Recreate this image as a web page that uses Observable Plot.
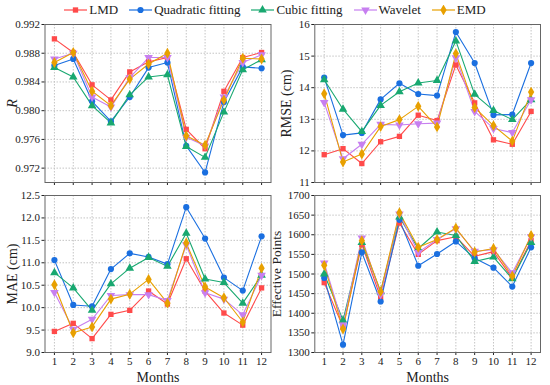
<!DOCTYPE html>
<html><head><meta charset="utf-8">
<script src="https://cdn.jsdelivr.net/npm/d3@7"></script>
<script src="https://cdn.jsdelivr.net/npm/@observablehq/plot@0.6"></script>
<style>
body{margin:0;background:#fff;}
#c{position:relative;width:550px;height:385px;font-family:"Liberation Serif","Times New Roman",serif;overflow:hidden;}
.p{position:absolute;}
#legend{position:absolute;top:1px;left:0;width:550px;display:flex;justify-content:center;gap:11px;font-size:13px;line-height:18px;color:#222;}
#legend span.item{display:flex;align-items:center;gap:2px;}
</style></head><body><div id="c"><div id="legend"></div></div>
<script>
const months = [1,2,3,4,5,6,7,8,9,10,11,12];
const seriesNames = ["LMD","Quadratic fitting","Cubic fitting","Wavelet","EMD"];
const colors = ["#ff4a4a","#1a6fe0","#18a870","#c77ff0","#e8a000"];

// R
const R_LMD   = [0.9900,0.9881,0.9836,0.9815,0.9854,0.9868,0.9874,0.9774,0.9747,0.9827,0.9874,0.9881];
const R_Quad  = [0.9863,0.9872,0.9813,0.9785,0.9819,0.9860,0.9867,0.9751,0.9714,0.9812,0.9861,0.9859];
const R_Cubic = [0.9860,0.9847,0.9807,0.9783,0.9822,0.9847,0.9850,0.9750,0.9735,0.9798,0.9857,0.9871];
const R_Wav   = [0.9872,0.9880,0.9819,0.9805,0.9846,0.9874,0.9874,0.9763,0.9751,0.9819,0.9867,0.9878];
const R_EMD   = [0.9867,0.9881,0.9827,0.9807,0.9844,0.9865,0.9880,0.9765,0.9752,0.9815,0.9873,0.9872];
// RMSE (cm)
const RMSE_LMD   = [11.88,12.07,11.60,12.29,12.46,13.13,12.96,14.72,13.52,12.35,12.21,13.25];
const RMSE_Quad  = [14.32,12.50,12.57,13.63,14.14,13.80,13.75,15.76,14.78,13.14,13.15,14.78];
const RMSE_Cubic = [14.25,13.32,12.61,13.44,13.87,14.15,14.23,15.48,13.79,13.28,12.99,13.62];
const RMSE_Wav   = [13.53,11.75,12.21,12.84,12.82,12.86,12.88,14.95,13.25,12.71,12.58,13.62];
const RMSE_EMD   = [13.81,11.65,11.90,12.77,12.99,13.41,12.76,15.08,13.37,12.80,12.31,13.86];
// MAE (cm)
const MAE_LMD   = [9.47,9.65,9.31,9.85,9.94,10.37,10.08,11.09,10.37,9.88,9.61,10.44];
const MAE_Quad  = [11.06,10.06,10.03,10.86,11.21,11.13,10.97,12.24,11.54,10.67,10.38,11.59];
const MAE_Cubic = [10.78,10.44,9.94,10.53,10.88,11.12,10.92,11.66,10.64,10.56,10.10,10.72];
const MAE_Wav   = [10.34,9.52,9.74,10.27,10.29,10.29,10.16,11.40,10.33,10.19,9.84,10.72];
const MAE_EMD   = [10.51,9.44,9.57,10.19,10.30,10.63,10.10,11.44,10.46,10.22,9.68,10.88];
// Effective Points
const EP_LMD   = [1478,1365,1575,1440,1630,1550,1585,1595,1545,1557,1490,1585];
const EP_Quad  = [1490,1320,1555,1430,1638,1521,1551,1583,1540,1516,1468,1568];
const EP_Cubic = [1500,1382,1580,1455,1645,1565,1607,1598,1532,1543,1488,1580];
const EP_Wav   = [1528,1370,1592,1448,1653,1555,1588,1615,1558,1562,1503,1595];
const EP_EMD   = [1522,1360,1585,1455,1656,1568,1588,1617,1556,1565,1495,1598];

const sqrt3 = Math.sqrt(3);
const triangleDown = {draw(ctx, size){const y=-Math.sqrt(size/(sqrt3*3));ctx.moveTo(0,-y*2);ctx.lineTo(-sqrt3*y,y);ctx.lineTo(sqrt3*y,y);ctx.closePath();}};
const symbols = ["square","circle","triangle",triangleDown,"diamond"];
const radii = [3.0,3.1,3.2,3.2,3.3];

function rows(arrs){
  return arrs.map((vals,i)=>months.map((m,j)=>({month:m,value:vals[j],series:seriesNames[i]})));
}

function panel(o){
  const series = rows(o.arrays);
  const marks = [
    Plot.gridX(months,{stroke:"#c4c4c4",strokeOpacity:1,strokeDasharray:"1.5,1.5"}),
    Plot.gridY(o.yTicks,{stroke:"#c4c4c4",strokeOpacity:1,strokeDasharray:"1.5,1.5"}),
    Plot.axisY(o.yTicks,{tickSize:3,tickPadding:2,tickFormat:o.yFormat,label:o.yLabel,labelAnchor:"center",labelArrow:"none",labelOffset:o.labelOffset}),
    Plot.axisX(months,{tickSize:3,tickPadding:2,tickFormat:o.xLabels?(d=>String(d)):(()=>""),label:o.xLabels?"Months":null,labelAnchor:"center",labelArrow:"none",labelOffset:29}),
    Plot.frame({stroke:"#666",strokeWidth:1})
  ];
  series.forEach((s,i)=>{
    marks.push(Plot.line(s,{x:"month",y:"value",stroke:colors[i],strokeWidth:1.1}));
  });
  series.forEach((s,i)=>{
    marks.push(Plot.dot(s,{x:"month",y:"value",fill:colors[i],stroke:"none",symbol:symbols[i],r:radii[i]}));
  });
  const p = Plot.plot({
    width:o.width,height:o.height,
    marginLeft:o.ml,marginRight:o.mr,marginTop:o.mt,marginBottom:o.mb,
    x:{domain:[0.5,12.5]},
    y:{domain:o.yDomain},
    style:{fontFamily:'"Liberation Serif","Times New Roman",serif',fontSize:"11px",color:"#222",background:"transparent",overflow:"visible"},
    marks
  });
  p.classList.add("p");
  p.style.left=o.left+"px";p.style.top=o.top+"px";
  d3.select(p).selectAll('[aria-label="y-axis label"] text').style("font-size",o.labelSize||"14px");
  d3.select(p).selectAll('[aria-label="x-axis label"] text').style("font-size","14px");
  if(o.italic) d3.select(p).selectAll('[aria-label="y-axis label"] text').style("font-style","italic");
  document.getElementById("c").appendChild(p);
}

const rTicks=[0.972,0.976,0.980,0.984,0.988,0.992];
panel({arrays:[R_LMD,R_Quad,R_Cubic,R_Wav,R_EMD],yDomain:[0.970,0.992],yTicks:rTicks,yFormat:d3.format(".3f"),yLabel:"R",italic:true,
  left:0,top:20,width:275,height:170,mt:4,mb:8,ml:44.5,mr:4.5,labelOffset:38,xLabels:false});
panel({arrays:[RMSE_LMD,RMSE_Quad,RMSE_Cubic,RMSE_Wav,RMSE_EMD],yDomain:[11,16],yTicks:[11,12,13,14,15,16],yFormat:d3.format("d"),yLabel:"RMSE (cm)",
  left:275,top:20,width:275,height:170,mt:4,mb:8,ml:39.3,mr:10,labelOffset:34,xLabels:false});
panel({arrays:[MAE_LMD,MAE_Quad,MAE_Cubic,MAE_Wav,MAE_EMD],yDomain:[9,12.5],yTicks:[9,9.5,10,10.5,11,11.5,12,12.5],yFormat:d3.format(".1f"),yLabel:"MAE (cm)",
  left:0,top:190,width:275,height:195,mt:5,mb:33,ml:44.5,mr:4.5,labelOffset:38,xLabels:true});
panel({arrays:[EP_LMD,EP_Quad,EP_Cubic,EP_Wav,EP_EMD],yDomain:[1300,1700],yTicks:d3.range(1300,1701,50),yFormat:d3.format("d"),yLabel:"Effective Points",
  left:275,top:190,width:275,height:195,mt:5,mb:33,ml:39.3,mr:10,labelOffset:43,labelSize:"13.5px",xLabels:true});

// legend
const lg = d3.select("#legend");
seriesNames.forEach((n,i)=>{
  const it = lg.append("span").attr("class","item");
  const sv = it.append("svg").attr("width",23).attr("height",10);
  sv.append("line").attr("x1",0).attr("x2",23).attr("y1",5).attr("y2",5).attr("stroke",colors[i]).attr("stroke-width",1.2);
  const sym = typeof symbols[i]==="string" ? {square:d3.symbolSquare,circle:d3.symbolCircle,triangle:d3.symbolTriangle,diamond:d3.symbolDiamond}[symbols[i]] : symbols[i];
  sv.append("path").attr("transform","translate(11.5,5)").attr("d",d3.symbol(sym, Math.PI*radii[i]*radii[i])()).attr("fill",colors[i]);
  it.append("span").text(n);
});
</script></body></html>
